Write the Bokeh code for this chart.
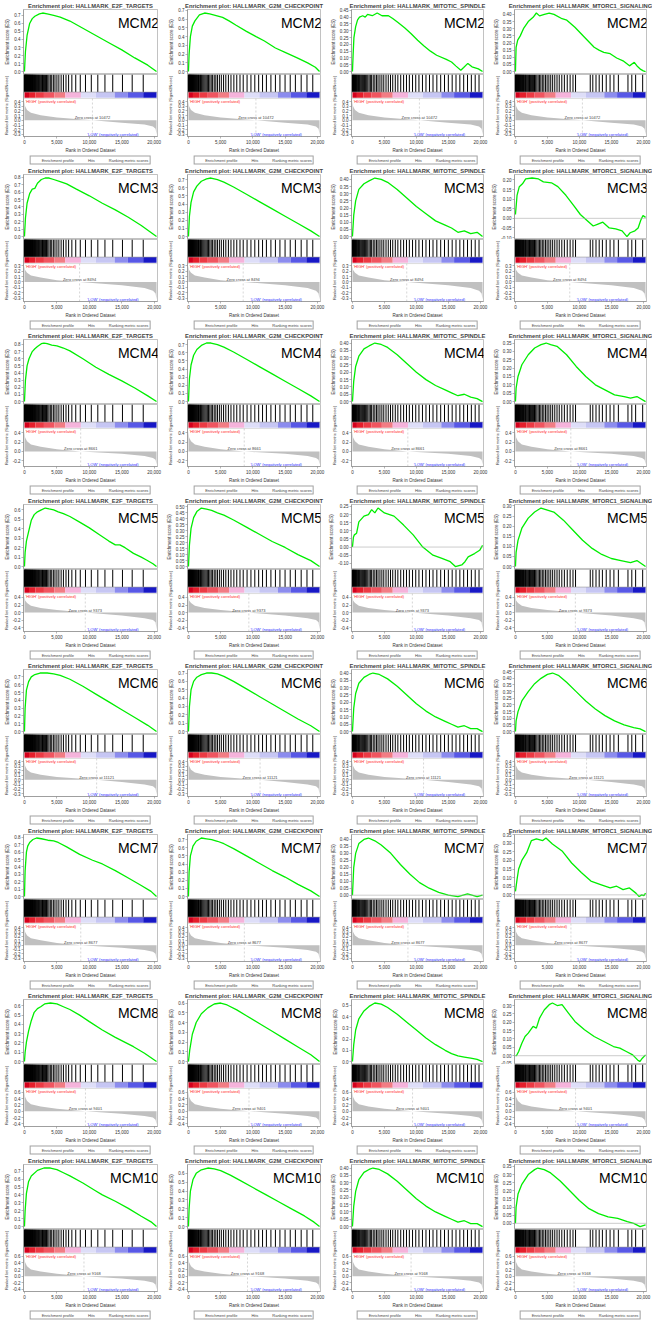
import math
from bokeh.plotting import figure
from bokeh.layouts import gridplot
from bokeh.models import (Range1d, SingleIntervalTicker, FixedTicker, NumeralTickFormatter, Label,
                          Span, Legend, LegendItem)
from bokeh.embed import file_html
from bokeh.resources import INLINE

genes = ["MCM2", "MCM3", "MCM4", "MCM5", "MCM6", "MCM7", "MCM8", "MCM10"]
gene_sets = ["HALLMARK_E2F_TARGETS", "HALLMARK_G2M_CHECKPOINT",
             "HALLMARK_MITOTIC_SPINDLE", "HALLMARK_MTORC1_SIGNALING"]
zero_cross = [10472, 8494, 8661, 9373, 11121, 8677, 9401, 9168]

# ---- running enrichment score, (rank, ES) ----
es_mcm2_e2f = [(0,0),(150,0.25),(400,0.45),(800,0.6),(1200,0.66),(1600,0.69),(2300,0.72),(2800,0.73),(3500,0.72),(4500,0.70),(5500,0.68),(7000,0.63),(9000,0.54),(11000,0.45),(13000,0.36),(15000,0.27),(17000,0.17),(19000,0.08),(20350,0.0)]
es_mcm3_e2f = [(0,0),(150,0.25),(400,0.45),(800,0.58),(1200,0.64),(1600,0.65),(2000,0.72),(2600,0.77),(3200,0.79),(3800,0.79),(4500,0.77),(5500,0.74),(6500,0.71),(8000,0.64),(10000,0.55),(12000,0.45),(14000,0.36),(16000,0.26),(18000,0.15),(20350,0.0)]
es_mcm4_e2f = [(0,0),(150,0.3),(400,0.5),(700,0.6),(1200,0.7),(1600,0.74),(2000,0.77),(2600,0.81),(3000,0.82),(3500,0.81),(4200,0.79),(5000,0.78),(6000,0.75),(7000,0.71),(9000,0.6),(11000,0.48),(13000,0.38),(15000,0.29),(17000,0.19),(19000,0.08),(20350,0.0)]
es_mcm5_e2f = [(0,0),(100,0.15),(300,0.27),(640,0.37),(1050,0.49),(1500,0.55),(2000,0.58),(2600,0.60),(3200,0.62),(3800,0.61),(4500,0.60),(5200,0.58),(6000,0.56),(7000,0.53),(8500,0.47),(10000,0.41),(11500,0.34),(13000,0.27),(14000,0.23),(14700,0.23),(15500,0.2),(16800,0.14),(18000,0.1),(18800,0.07),(19800,0.03),(20350,0.0)]
es_mcm6_e2f = [(0,0),(100,0.3),(300,0.53),(640,0.64),(1050,0.70),(1600,0.73),(2400,0.75),(3500,0.75),(4500,0.74),(5500,0.72),(7000,0.67),(9000,0.58),(11000,0.48),(13000,0.38),(15000,0.28),(17000,0.18),(19000,0.08),(20350,0.0)]
es_mcm7_e2f = [(0,0),(100,0.35),(300,0.6),(500,0.68),(800,0.73),(1300,0.77),(1870,0.79),(2600,0.78),(3600,0.76),(4500,0.75),(5200,0.73),(6500,0.67),(8500,0.57),(10500,0.49),(12000,0.44),(14000,0.35),(16000,0.25),(18000,0.15),(19500,0.07),(20350,0.0)]
es_mcm8_e2f = [(0,0),(100,0.1),(300,0.21),(640,0.33),(1050,0.44),(1500,0.53),(2000,0.57),(2500,0.59),(3100,0.62),(4000,0.63),(5000,0.62),(6000,0.59),(7000,0.56),(8500,0.5),(10000,0.43),(12000,0.34),(14000,0.26),(16800,0.16),(18500,0.09),(20350,0.0)]
es_mcm10_e2f = [(0,0),(100,0.2),(300,0.42),(640,0.57),(1050,0.64),(2000,0.71),(3000,0.74),(4000,0.74),(5000,0.72),(6000,0.68),(7000,0.64),(9000,0.55),(11000,0.45),(12000,0.4),(14000,0.32),(16000,0.23),(18000,0.13),(19500,0.06),(20350,0.0)]

es_mcm2_g2m = [(0,0),(100,0.2),(300,0.4),(600,0.52),(1000,0.58),(1700,0.65),(2500,0.67),(3300,0.66),(4300,0.64),(5300,0.62),(6300,0.58),(7400,0.53),(9000,0.46),(10500,0.4),(11800,0.35),(13500,0.27),(15000,0.22),(16800,0.16),(18500,0.1),(19700,0.05),(20350,0.0)]
es_mcm3_g2m = [(0,0),(150,0.25),(400,0.42),(800,0.55),(1300,0.62),(2000,0.68),(2800,0.71),(3500,0.72),(4500,0.7),(5500,0.67),(7000,0.61),(9000,0.52),(11000,0.43),(13000,0.34),(15000,0.25),(17000,0.16),(19000,0.07),(20350,0.0)]
es_mcm4_g2m = [(0,0),(150,0.28),(400,0.45),(800,0.57),(1300,0.64),(2000,0.69),(2800,0.72),(3500,0.72),(4500,0.7),(5500,0.67),(7000,0.61),(9000,0.52),(11000,0.43),(13000,0.34),(15000,0.25),(17000,0.16),(19000,0.07),(20350,0.0)]
es_mcm5_g2m = [(0,0),(150,0.18),(400,0.32),(800,0.41),(1300,0.46),(2000,0.49),(2800,0.48),(3600,0.47),(4500,0.45),(5500,0.43),(7000,0.39),(9000,0.33),(11000,0.27),(13000,0.21),(15000,0.16),(17000,0.1),(19000,0.05),(20350,0.0)]
es_mcm6_g2m = [(0,0),(150,0.3),(400,0.5),(800,0.6),(1300,0.65),(2000,0.68),(2800,0.70),(3600,0.70),(4500,0.69),(5500,0.66),(7000,0.6),(9000,0.51),(11000,0.42),(13000,0.33),(15000,0.24),(17000,0.15),(19000,0.07),(20350,0.0)]
es_mcm7_g2m = [(0,0),(100,0.3),(300,0.5),(700,0.62),(1200,0.68),(2000,0.72),(2800,0.71),(3600,0.70),(4500,0.68),(5500,0.65),(7000,0.59),(9000,0.5),(11000,0.41),(13000,0.32),(15000,0.24),(17000,0.15),(19000,0.07),(20350,0.0)]
es_mcm8_g2m = [(0,0),(200,0.12),(600,0.28),(1200,0.4),(2000,0.49),(3000,0.55),(4000,0.59),(5000,0.6),(6000,0.58),(7500,0.53),(9000,0.47),(11000,0.39),(13000,0.31),(15000,0.23),(17000,0.15),(19000,0.07),(20350,0.0)]
es_mcm10_g2m = [(0,0),(100,0.2),(300,0.4),(700,0.53),(1200,0.6),(2000,0.64),(3000,0.66),(4000,0.65),(5000,0.63),(6500,0.58),(8000,0.52),(10000,0.44),(12000,0.36),(14000,0.28),(16000,0.2),(18000,0.12),(19500,0.05),(20350,0.0)]

es_mcm2_mit = [(0,0),(100,0.12),(230,0.25),(500,0.33),(800,0.38),(1100,0.40),(1600,0.41),(2000,0.40),(2360,0.42),(3100,0.41),(3870,0.43),(4620,0.41),(5630,0.41),(6300,0.39),(7130,0.36),(8200,0.32),(9140,0.28),(10200,0.23),(11150,0.19),(12200,0.15),(13170,0.12),(14680,0.09),(15500,0.07),(16200,0.04),(16950,0.01),(17400,0.03),(18050,0.06),(18700,0.035),(19700,0.02),(20350,0.0)]
es_mcm3_mit = [(0,0),(200,0.15),(500,0.25),(1000,0.33),(1800,0.37),(2600,0.39),(3500,0.41),(4500,0.40),(5500,0.38),(7000,0.33),(8500,0.27),(10000,0.21),(11500,0.16),(13000,0.11),(14500,0.08),(15500,0.06),(16500,0.03),(17500,0.04),(18500,0.02),(19500,0.03),(20350,0.0)]
es_mcm4_mit = [(0,0),(200,0.14),(500,0.24),(1000,0.31),(1800,0.36),(2600,0.38),(3500,0.40),(4500,0.39),(5500,0.37),(7000,0.32),(8500,0.26),(10000,0.2),(11500,0.15),(13000,0.11),(14500,0.08),(15500,0.06),(16500,0.04),(17500,0.05),(18500,0.03),(19500,0.02),(20350,0.0)]
es_mcm5_mit = [(0,0),(150,0.06),(300,0.075),(650,0.085),(1000,0.155),(1800,0.19),(2500,0.2),(3000,0.23),(3500,0.21),(4000,0.24),(5000,0.21),(6500,0.19),(8000,0.135),(9500,0.075),(11000,0.0),(12600,-0.05),(14000,-0.07),(15300,-0.09),(16100,-0.12),(17100,-0.11),(17600,-0.09),(18100,-0.06),(19100,-0.04),(19900,-0.02),(20350,0.01)]
es_mcm6_mit = [(0,0),(200,0.16),(500,0.26),(1000,0.33),(1800,0.37),(2600,0.39),(3200,0.40),(4200,0.39),(5500,0.36),(7000,0.31),(8500,0.25),(10000,0.19),(11500,0.14),(13000,0.1),(14500,0.07),(15500,0.05),(16500,0.03),(17500,0.04),(18500,0.02),(19500,0.02),(20350,0.0)]
es_mcm7_mit = [(0,0),(200,0.2),(500,0.3),(1000,0.37),(1800,0.40),(2500,0.41),(3500,0.39),(4500,0.36),(6000,0.3),(7500,0.22),(9000,0.15),(10500,0.09),(12000,0.05),(13500,0.02),(15000,0.0),(16500,-0.01),(18000,0.01),(19500,-0.01),(20350,0.0)]
es_mcm8_mit = [(0,0),(200,0.15),(500,0.28),(1000,0.38),(1800,0.45),(2600,0.49),(3500,0.52),(4500,0.51),(5500,0.48),(7000,0.42),(8500,0.35),(10000,0.28),(11500,0.21),(13000,0.15),(14500,0.1),(15500,0.07),(16500,0.05),(17500,0.04),(18500,0.03),(19500,0.02),(20350,0.0)]
es_mcm10_mit = [(0,0),(200,0.14),(500,0.24),(1000,0.32),(1800,0.37),(2600,0.39),(3200,0.40),(4200,0.39),(5500,0.36),(7000,0.31),(8500,0.25),(10000,0.19),(11500,0.14),(13000,0.1),(14500,0.07),(15500,0.05),(16500,0.03),(17500,0.04),(18500,0.02),(19500,0.02),(20350,0.0)]

es_mcm2_mt = [(0,0),(50,0.09),(100,0.17),(350,0.22),(750,0.25),(1250,0.30),(2000,0.35),(2760,0.38),(3270,0.41),(3770,0.39),(4520,0.40),(5280,0.41),(6030,0.40),(7290,0.37),(8040,0.36),(9300,0.31),(10800,0.24),(12310,0.17),(13070,0.15),(13820,0.135),(14820,0.125),(15830,0.095),(16830,0.075),(17840,0.04),(18590,0.065),(19100,0.035),(19600,0.015),(20000,0.005),(20350,0.0)]
es_mcm3_mt = [(0,0.02),(250,0.12),(600,0.165),(1100,0.18),(1600,0.205),(2600,0.21),(3600,0.205),(4370,0.19),(5630,0.185),(6630,0.165),(7890,0.12),(9150,0.065),(10150,0.02),(11150,-0.01),(12160,-0.04),(12910,-0.03),(13670,-0.02),(14670,-0.05),(15680,-0.055),(16680,-0.065),(17440,-0.095),(17940,-0.075),(18690,-0.065),(19190,-0.05),(19600,-0.01),(19950,0.015),(20350,0.005)]
es_mcm4_mt = [(0,0),(100,0.08),(400,0.15),(1000,0.22),(2000,0.28),(3000,0.32),(4000,0.34),(4800,0.35),(5500,0.34),(6500,0.33),(8000,0.28),(9500,0.21),(11000,0.15),(12500,0.1),(14000,0.07),(15500,0.04),(17000,0.03),(18000,0.02),(19000,0.03),(20350,0.0)]
es_mcm5_mt = [(0,0),(100,0.07),(400,0.13),(1000,0.19),(2000,0.24),(3000,0.27),(4000,0.29),(5000,0.28),(6000,0.27),(7500,0.23),(9000,0.18),(10500,0.13),(12000,0.09),(13500,0.06),(15000,0.04),(16500,0.03),(18000,0.02),(19000,0.03),(20350,0.0)]
es_mcm6_mt = [(0,0),(100,0.08),(400,0.15),(1000,0.23),(2000,0.3),(3000,0.36),(4000,0.4),(5000,0.43),(5800,0.44),(6800,0.42),(8000,0.37),(9500,0.3),(11000,0.23),(12500,0.17),(14000,0.12),(15500,0.08),(17000,0.05),(18500,0.03),(19500,0.02),(20350,0.0)]
es_mcm7_mt = [(0,0.02),(250,0.09),(500,0.15),(1000,0.2),(1760,0.245),(2500,0.315),(3270,0.325),(4270,0.315),(4770,0.33),(5780,0.295),(7290,0.255),(8790,0.185),(10300,0.13),(11800,0.08),(13320,0.06),(14820,0.04),(15830,0.05),(16830,0.03),(17840,0.04),(18840,0.01),(19350,-0.01),(19750,0.0),(20100,-0.005),(20350,0.01)]
es_mcm8_mt = [(0,0),(150,0.0),(500,0.025),(1000,0.075),(1500,0.115),(2000,0.135),(2760,0.175),(3270,0.165),(3770,0.225),(4520,0.275),(5280,0.305),(5780,0.315),(6530,0.30),(7290,0.305),(8290,0.255),(9300,0.205),(10800,0.155),(12310,0.115),(13820,0.085),(15330,0.055),(16330,0.045),(17340,0.025),(18340,0.005),(19100,-0.025),(19450,-0.035),(19850,-0.015),(20350,0.005)]
es_mcm10_mt = [(0,0),(100,0.1),(400,0.18),(1000,0.24),(2000,0.3),(3000,0.33),(3500,0.34),(4500,0.33),(5500,0.31),(7000,0.26),(8500,0.2),(10000,0.14),(11500,0.09),(13000,0.06),(14500,0.04),(16000,0.03),(17500,0.01),(18500,0.0),(19500,-0.02),(20350,-0.01)]

# ---- hit positions (ranks of gene-set members) ----
hits_e2f = [0,30,60,95,130,165,200,240,280,320,360,400,445,490,535,580,630,680,730,780,830,885,940,995,1050,1110,1170,1230,1290,1350,1420,1490,1560,1640,1720,1800,1890,1980,2080,2180,2290,2400,2520,2650,2780,2920,3070,3230,3400,3580,3770,3980,4200,4450,4700,5000,5300,5650,6000,6400,6800,7300,7900,8600,9400,10300,11300,12400,13600,15100,16600,18300]
hits_g2m = [0,40,80,120,165,210,260,310,360,410,465,520,580,640,700,765,830,900,970,1040,1120,1200,1280,1370,1460,1560,1660,1770,1880,2000,2130,2270,2420,2580,2750,2930,3120,3320,3530,3750,4000,4250,4500,4800,5100,5450,5800,6200,6600,7050,7500,8000,8500,9100,9700,10300,10900,11500,12100,12800,13500,14200,15000,15800,16600,17500,18400,19300]
hits_mit = [0,50,110,170,240,310,390,470,560,650,750,850,960,1080,1200,1330,1460,1600,1750,1900,2060,2230,2400,2600,2800,3000,3250,3500,3750,4000,4300,4600,4900,5250,5600,5950,6300,6700,7100,7550,8000,8450,8900,9400,9900,10400,10950,11500,12050,12600,13200,13800,14400,15000,15600,16200,16800,17400,18000,18600,19200,19800]
hits_mt = [0,40,90,140,190,245,300,360,420,485,550,620,690,765,840,920,1000,1090,1180,1270,1370,1470,1580,1690,1810,1930,2060,2200,2340,2490,2650,2810,2980,3160,3350,3550,3750,3970,4200,4440,4690,4950,5230,5520,5820,6150,6500,6850,7250,7650,8100,8550,9000,9400,11700,12100,12600,13100,13600,14200,14800,15400,16100,17600,18200,18800,19900]

# ---- ranked list metric (Signal2Noise) ----
metric_ranks_head = [0, 100, 400, 1000, 2500, 5000]
metric_ranks_tail = [15000, 18500, 19800, 20200, 20350]
metric_mcm2 = [0.42, 0.30, 0.22, 0.16, 0.11, 0.06, 0.0, -0.05, -0.09, -0.13, -0.18, -0.30]
metric_mcm3 = [0.30, 0.22, 0.17, 0.12, 0.08, 0.03, 0.0, -0.06, -0.11, -0.16, -0.21, -0.32]
metric_mcm4 = [0.45, 0.30, 0.22, 0.15, 0.10, 0.05, 0.0, -0.05, -0.10, -0.14, -0.18, -0.28]
metric_mcm5 = [0.45, 0.32, 0.25, 0.18, 0.12, 0.07, 0.0, -0.08, -0.15, -0.20, -0.26, -0.45]
metric_mcm6 = [0.42, 0.30, 0.22, 0.16, 0.11, 0.06, 0.0, -0.05, -0.10, -0.14, -0.19, -0.32]
metric_mcm7 = [0.45, 0.30, 0.22, 0.16, 0.11, 0.05, 0.0, -0.06, -0.11, -0.15, -0.20, -0.33]
metric_mcm8 = [0.65, 0.45, 0.32, 0.22, 0.15, 0.08, 0.0, -0.08, -0.15, -0.20, -0.27, -0.42]
metric_mcm10 = [0.62, 0.42, 0.30, 0.20, 0.14, 0.07, 0.0, -0.07, -0.14, -0.19, -0.25, -0.40]

# ---- heat bar under the hits ----
band_edges = [0, 700, 1700, 3000, 4600, 6300, 8700, 11000, 13900, 15900, 18300, 20350]

# ---------------------------------------------------------------------------
es_panels = [
    [es_mcm2_e2f, es_mcm2_g2m, es_mcm2_mit, es_mcm2_mt],
    [es_mcm3_e2f, es_mcm3_g2m, es_mcm3_mit, es_mcm3_mt],
    [es_mcm4_e2f, es_mcm4_g2m, es_mcm4_mit, es_mcm4_mt],
    [es_mcm5_e2f, es_mcm5_g2m, es_mcm5_mit, es_mcm5_mt],
    [es_mcm6_e2f, es_mcm6_g2m, es_mcm6_mit, es_mcm6_mt],
    [es_mcm7_e2f, es_mcm7_g2m, es_mcm7_mit, es_mcm7_mt],
    [es_mcm8_e2f, es_mcm8_g2m, es_mcm8_mit, es_mcm8_mt],
    [es_mcm10_e2f, es_mcm10_g2m, es_mcm10_mit, es_mcm10_mt],
]
hits_by_set = [hits_e2f, hits_g2m, hits_mit, hits_mt]
metrics = [metric_mcm2, metric_mcm3, metric_mcm4, metric_mcm5,
           metric_mcm6, metric_mcm7, metric_mcm8, metric_mcm10]
metric_tick = [0.1, 0.1, 0.2, 0.2, 0.1, 0.1, 0.2, 0.2]
band_colors = ["#d5001c", "#e51e2b", "#ec3a44", "#f05560", "#f27c84", "#f5b3db",
               "#dedef8", "#c6c6f3", "#8c8cee", "#5858e6", "#1818c6"]

GREEN = "#00ee00"
W = 163
H_ES, H_LOW, H_LEG = 74, 81, 10
BL, BR = 20, 6
X0, X1 = -150, 20500
SMALL = "4.5px"
FONT = "Liberation Sans"
# pixel heights inside the lower frame: ranked area, gap, heat bar, hits
PX_RANK, PX_GAP, PX_BAR, PX_HIT = 41, 1, 6, 19


def style_axis(ax, size=SMALL):
    ax.major_label_text_font_size = SMALL
    ax.major_label_text_font = FONT
    ax.major_label_text_color = "#333333"
    ax.axis_label_text_font_size = size
    ax.axis_label_text_font = FONT
    ax.axis_label_text_font_style = "normal"
    ax.axis_label_text_color = "#333333"
    ax.major_label_standoff = 1
    ax.axis_label_standoff = 1
    ax.major_tick_out = 2
    ax.major_tick_in = 0
    ax.minor_tick_out = 0
    ax.minor_tick_in = 0
    ax.axis_line_color = "#888888"
    ax.axis_line_width = 0.6
    ax.major_tick_line_color = "#888888"
    ax.major_tick_line_width = 0.6


def base_fig(height, y_range, **kw):
    p = figure(width=W, height=height, x_range=Range1d(X0, X1), y_range=y_range,
               output_backend="svg", toolbar_location=None,
               min_border_left=BL, min_border_right=BR, min_border_top=0, min_border_bottom=0,
               **kw)
    p.grid.visible = False
    p.outline_line_color = "#999999"
    p.outline_line_width = 0.6
    p.background_fill_color = "white"
    p.border_fill_color = "white"
    return p


rows = []
for r, gene in enumerate(genes):
    es_row, low_row, leg_row = [], [], []
    for c, gs in enumerate(gene_sets):
        pts = es_panels[r][c]
        xs = [q[0] for q in pts]
        ys = [q[1] for q in pts]
        lo, hi = min(ys), max(ys)
        span = hi - lo
        y0, y1 = lo - 0.05 * span, hi + 0.06 * span

        # --- enrichment score panel ---
        p1 = base_fig(H_ES, Range1d(y0, y1), x_axis_location=None,
                      title="Enrichment plot: " + gs)
        p1.title.text_font_size = "5.8px"
        p1.title.text_font_style = "bold"
        p1.title.text_font = FONT
        p1.title.align = "center"
        p1.title.standoff = 1
        if lo < 0:
            p1.add_layout(Span(location=0, dimension="width", line_color="#aaaaaa", line_width=0.6))
        p1.line(xs, ys, line_color=GREEN, line_width=1.3)
        step = 0.05 if span < 0.5 else 0.1
        p1.yaxis.ticker = SingleIntervalTicker(interval=step, num_minor_ticks=0)
        p1.yaxis.formatter = NumeralTickFormatter(format="0.00" if step < 0.1 else "0.0")
        p1.yaxis.axis_label = "Enrichment score (ES)"
        style_axis(p1.yaxis[0])
        p1.add_layout(Label(x=20750, y=y1 - 0.09 * (y1 - y0), text=gene, text_align="right",
                            text_baseline="top", text_font_size="14px", text_font=FONT,
                            text_color="black"))
        es_row.append(p1)

        # --- hits, heat bar and ranked list metric share one frame ---
        zc = zero_cross[r]
        mranks = metric_ranks_head + [zc] + metric_ranks_tail
        mvals = metrics[r]
        mlo, mhi = min(mvals), max(mvals)
        mspan = mhi - mlo
        m0, m1 = mlo - 0.06 * mspan, mhi + 0.06 * mspan
        u = (m1 - m0) / PX_RANK
        bar0 = m1 + PX_GAP * u
        bar1 = bar0 + PX_BAR * u
        top = bar1 + PX_HIT * u
        p3 = base_fig(H_LOW, Range1d(m0, top))
        p3.varea(x=mranks, y1=[0.0] * len(mranks), y2=mvals, fill_color="#c0c0c0")
        p3.segment(x0=[zc], y0=[m0], x1=[zc], y1=[m1], line_color="#bbbbbb",
                   line_width=0.6, line_dash="2 2")
        hits = hits_by_set[c]
        p3.segment(x0=hits, y0=[bar1] * len(hits), x1=hits, y1=[top] * len(hits),
                   line_color="black", line_width=1.0)
        p3.quad(left=band_edges[:-1], right=band_edges[1:], bottom=bar0, top=bar1,
                fill_color=band_colors, line_color=None)
        p3.add_layout(Span(location=bar1, dimension="width", line_color="#999999", line_width=0.6))
        p3.add_layout(Span(location=m1, dimension="width", line_color="#bbbbbb", line_width=0.5))
        st = metric_tick[r]
        ticks = [round(k * st, 2) for k in range(math.ceil(m0 / st), math.floor(m1 / st) + 1)]
        p3.yaxis.ticker = FixedTicker(ticks=ticks)
        p3.yaxis.formatter = NumeralTickFormatter(format="0.0")
        p3.yaxis.axis_label = "Ranked list metric (Signal2Noise)"
        p3.xaxis.ticker = SingleIntervalTicker(interval=5000, num_minor_ticks=0)
        p3.xaxis.formatter = NumeralTickFormatter(format="0,0")
        p3.xaxis.axis_label = "Rank in Ordered Dataset"
        style_axis(p3.yaxis[0], size="4px")
        style_axis(p3.xaxis[0])
        p3.add_layout(Label(x=150, y=m1, text="'HIGH' (positively correlated)", text_align="left",
                            text_baseline="top", text_font_size="4px", text_font=FONT,
                            text_color="#ff2a2a"))
        p3.add_layout(Label(x=17600, y=m0, text="'LOW' (negatively correlated)", text_align="right",
                            text_baseline="bottom", text_font_size="4px", text_font=FONT,
                            text_color="#2a2aff"))
        p3.add_layout(Label(x=zc, y=0.0, text="Zero cross at %d" % zc, text_align="center",
                            text_baseline="bottom", text_font_size="4px", text_font=FONT,
                            text_color="#444444"))
        low_row.append(p3)

        # --- legend strip ---
        p4 = figure(width=W, height=H_LEG, x_range=Range1d(0, 1), y_range=Range1d(0, 1),
                    output_backend="svg", toolbar_location=None,
                    x_axis_location=None, y_axis_location=None,
                    min_border_left=0, min_border_right=0, min_border_top=0, min_border_bottom=0)
        p4.grid.visible = False
        p4.outline_line_color = None
        r_g = p4.line(x=[], y=[], line_color=GREEN, line_width=1.3)
        r_h = p4.line(x=[], y=[], line_color="black", line_width=0.8)
        r_m = p4.line(x=[], y=[], line_color="#c0c0c0", line_width=1)
        leg = Legend(items=[LegendItem(label="Enrichment profile", renderers=[r_g]),
                            LegendItem(label="Hits", renderers=[r_h]),
                            LegendItem(label="Ranking metric scores", renderers=[r_m])],
                     orientation="horizontal", location="center",
                     label_text_font_size="4px", label_text_font=FONT,
                     label_height=4, label_width=4, glyph_height=4, glyph_width=9,
                     label_standoff=1, spacing=4, padding=1, margin=0,
                     border_line_color="#444444", border_line_width=0.6)
        p4.add_layout(leg, "center")
        leg_row.append(p4)
    rows += [es_row, low_row, leg_row]

grid = gridplot(rows, toolbar_location=None)
open("out.html", "w").write(file_html(grid, INLINE))
